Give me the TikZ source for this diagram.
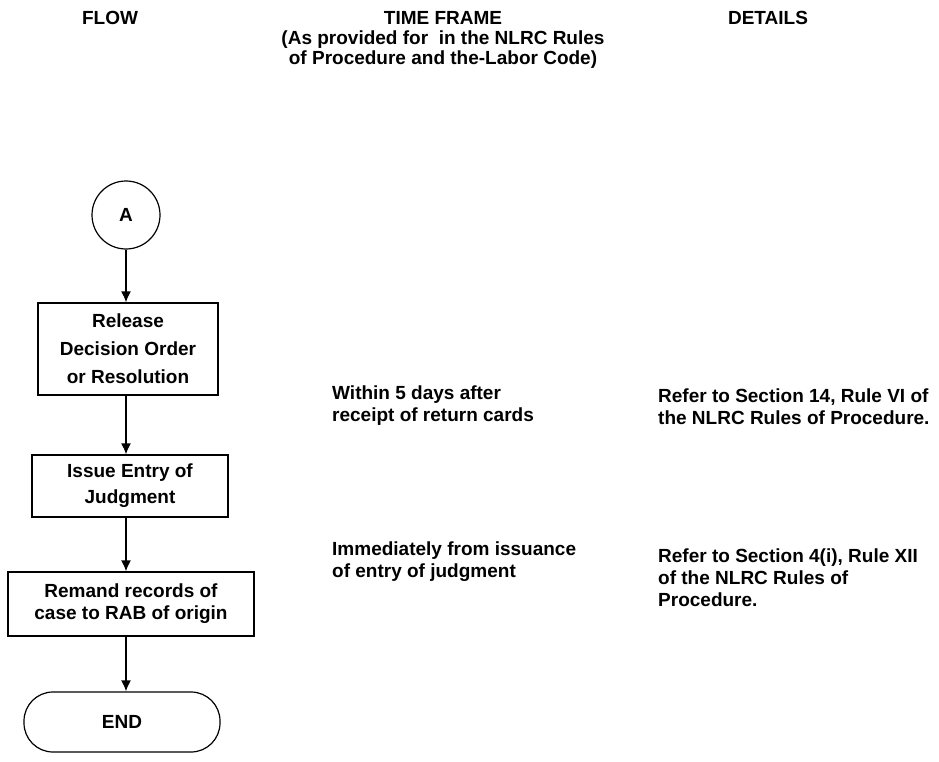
\documentclass[tikz,border=0pt]{standalone}
\usepackage{fontspec}
\setmainfont{Liberation Sans}
\usetikzlibrary{arrows.meta}
\tikzstyle{arrow} = [line width=1.6pt,->,>={Latex[length=11pt,width=10pt]}]
\tikzstyle{flowbox} = [draw,line width=1.2pt,align=center,inner sep=0pt]
\tikzstyle{note} = [anchor=west,align=left,inner sep=0pt]

\begin{document}
\begin{tikzpicture}[x=1pt,y=-1pt,font=\fontsize{19}{22}\selectfont\bfseries]
	\useasboundingbox (0,0) rectangle (939,762);
	
	% define constants
	\def \ax {126}
	\def \cola {332}
	\def \colb {658}
	
	% Headings
	\node (hflow) at (110,18) {FLOW};
	\node (htime) at (443,18) {TIME FRAME};
	\node[align=center,font=\fontsize{19}{20}\selectfont\bfseries] (hsub) at (443,50) {(As provided for \ in the NLRC Rules\\ of Procedure and the-Labor Code)};
	\node (hdet) at (768,18) {DETAILS};
	
	% Flow
	\node[draw,circle,line width=1.2pt,minimum size=68] (start) at (\ax,215) {A};
	\node[flowbox,minimum width=180,minimum height=92,font=\fontsize{19}{28}\selectfont\bfseries] (release) at (128,349) {Release\\Decision Order\\or Resolution};
	\node[flowbox,minimum width=196,minimum height=62,font=\fontsize{19}{26}\selectfont\bfseries] (entry) at (130,486) {Issue Entry of\\Judgment};
	\node[flowbox,minimum width=246,minimum height=64] (remand) at (131,604) {Remand records of\\case to RAB of origin};
	\node[flowbox,rounded corners=29,minimum width=196,minimum height=60] (end) at (122,722) {END};
	
	% Arrows
	\draw[arrow] (start.south) -- (start.south |- release.north);
	\draw[arrow] (start.south |- release.south) -- (start.south |- entry.north);
	\draw[arrow] (start.south |- entry.south) -- (start.south |- remand.north);
	\draw[arrow] (start.south |- remand.south) -- (start.south |- end.north);
	
	% Time frame
	\node[note] (tf1) at (\cola,406) {Within 5 days after\\receipt of return cards};
	\node[note] (tf2) at (\cola,562) {Immediately from issuance\\of entry of judgment};
	
	% Details
	\node[note] (det1) at (\colb,407) {Refer to Section 14, Rule VI of\\the NLRC Rules of Procedure.};
	\node[note] (det2) at (\colb,578) {Refer to Section 4(i), Rule XII\\of the NLRC Rules of\\Procedure.};
\end{tikzpicture}
\end{document}
